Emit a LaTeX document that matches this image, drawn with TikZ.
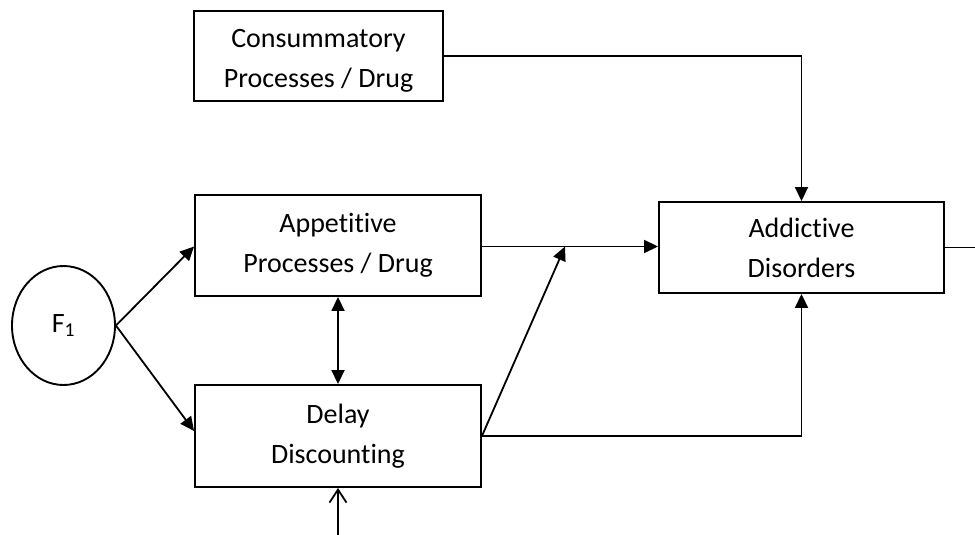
\documentclass[tikz,border=0pt]{standalone}
\usepackage{fontspec}
\setmainfont{Carlito}[Ligatures=CommonOff]
\usetikzlibrary{arrows.meta,shapes.geometric}
\tikzset{
  box/.style={draw, line width=1.9pt, rectangle, align=center, inner sep=0pt,
    font=\fontsize{28}{40}\selectfont},
  txt/.style={align=center, inner sep=0pt, font=\fontsize{28}{40}\selectfont},
  conn/.style={line width=1.8pt, -{Triangle[length=14pt,width=13pt]}},
  dconn/.style={line width=1.8pt, {Triangle[length=14pt,width=13pt]}-{Triangle[length=14pt,width=13pt]}},
  openarr/.style={line width=1.8pt, -{Straight Barb[length=13pt,width=17pt,line width=1.8pt]}},
  plain/.style={line width=1.8pt}
}
\begin{document}
\begin{tikzpicture}[x=1pt,y=-1pt]
\useasboundingbox (0,0) rectangle (975,535);
\node[box, minimum width=249pt, minimum height=90pt] (cons) at (318.5,56) {};
\node[txt] (constxt) at ([yshift=-5pt]cons.center) {Consummatory\\Processes / Drug};
\node[box, minimum width=286pt, minimum height=101pt] (app) at (338,245.5) {Appetitive\\Processes / Drug};
\node[box, minimum width=286pt, minimum height=102pt] (delay) at (338,436) {Delay\\Discounting};
\node[box, minimum width=285pt, minimum height=91pt] (add) at (801.5,247.5) {Addictive\\Disorders};
\node[draw, line width=1.9pt, ellipse, minimum width=103pt, minimum height=119pt, inner sep=0pt,
  font=\fontsize{28}{34}\selectfont] (F1) at (63.5,325.5) {F\textsubscript{1}};
\coordinate (j) at (565,246.5);
\coordinate (bot) at (338,535);
\coordinate (out) at (975,247.5);
\draw[conn] (F1.east) -- ([yshift=-1pt]app.west);
\draw[conn] (F1.east) -- ([yshift=5pt]delay.west);
\draw[conn] ([yshift=-1pt]app.east) -- ([yshift=1pt]add.west);
\draw[conn] (delay.east) -- (j);
\draw[conn] (delay.east) -| (add.south);
\draw[conn] (cons.east) -| (add.north);
\draw[dconn] (app.south) -- (delay.north);
\draw[openarr] (bot) -- (delay.south);
\draw[plain] (add.east) -- (out);
\end{tikzpicture}
\end{document}
